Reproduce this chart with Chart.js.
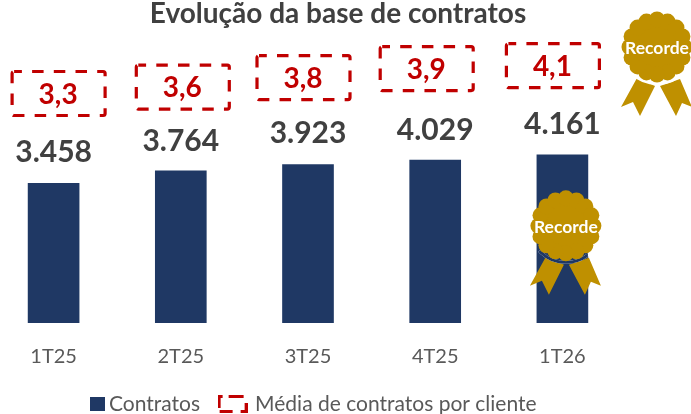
<!DOCTYPE html>
<html><head><meta charset="utf-8">
<style>html,body{margin:0;padding:0;background:#fff;overflow:hidden}canvas{display:block;position:absolute;left:-11px;top:0}</style>
<script src="https://cdn.jsdelivr.net/npm/chart.js@4"></script></head>
<body><div style="width:691px;height:414px;position:relative;overflow:hidden"><canvas id="c" width="702" height="414"></canvas></div>
<script>
const categories = ['1T25','2T25','3T25','4T25','1T26'];
const contratos = [3458,3764,3923,4029,4161];
const contratosLabels = ['3.458','3.764','3.923','4.029','4.161'];
const media = [3.3,3.6,3.8,3.9,4.1];
const mediaLabels = ['3,3','3,6','3,8','3,9','4,1'];
const seriesNames = ['Contratos','Média de contratos por cliente'];
const chartTitle = 'Evolução da base de contratos';
const recordeText = 'Recorde';

const NAVY='#1F3864', RED='#C00000', GOLD='#BF9000', GREY='#595959', DARK='#404040';
const FONT='Lato, Carlito, Calibri, sans-serif';
const boxNudgeX=[5,2,-4.5,-8.5,-9.5], boxNudgeY=[0,4,1.5,-4,0], labelNudgeY=[0,1.5,0,1.5,0];

function rrDash(ctx,x,y,w,h,r){ctx.beginPath();ctx.roundRect(x,y,w,h,r);ctx.stroke();}
const iconBar=document.createElement('canvas');iconBar.width=37;iconBar.height=18;
{const g=iconBar.getContext('2d');g.fillStyle=NAVY;g.fillRect(22,2,15,14);}
const iconBox=document.createElement('canvas');iconBox.width=30;iconBox.height=18;
{const g=iconBox.getContext('2d');g.fillStyle=RED;
 [[0,0,3,13],[0,0,5,3],[11,0,15,3],[2,15,13,3],[27,8,3,10],[23,15,7,3]].forEach(s=>g.fillRect(s[0],s[1],s[2],s[3]));}

function badge(ctx,cx,cy,navyRange){
  ctx.save();ctx.translate(cx,cy);ctx.fillStyle=GOLD;
  [[[-20,31],[-2,39],[-17,69],[-24,55],[-36,60]],[[23,32],[3,39],[19,69],[25,56],[35,60]]].forEach(p=>{
    ctx.beginPath();p.forEach((q,i)=>i?ctx.lineTo(q[0],q[1]):ctx.moveTo(q[0],q[1]));ctx.closePath();ctx.fill();});
  ctx.lineWidth=3;
  ctx.strokeStyle='#ffffff';ctx.beginPath();ctx.arc(0,0,36.5,0.75,Math.PI-0.75);ctx.stroke();
  if(navyRange){ctx.save();ctx.beginPath();ctx.rect(navyRange[0],0,navyRange[1]-navyRange[0],60);ctx.clip();
    ctx.strokeStyle=NAVY;ctx.beginPath();ctx.arc(0,0,36.5,0.75,Math.PI-0.75);ctx.stroke();ctx.restore();}
  ctx.fillStyle=GOLD;ctx.beginPath();ctx.arc(0,0,29,0,Math.PI*2);ctx.fill();
  const n=16;for(let i=0;i<n;i++){const a=i/n*Math.PI*2;ctx.beginPath();ctx.arc(Math.cos(a)*27.5,Math.sin(a)*27.5,8,0,Math.PI*2);ctx.fill();}
  ctx.fillStyle='#fff';ctx.font='bold 17.5px '+FONT;ctx.textAlign='center';ctx.textBaseline='middle';
  ctx.fillText(recordeText,0,1);
  ctx.restore();
}
const marks={id:'marks',
  afterLayout(chart){
    const l=chart.legend;l.left=65;l.right=702;l.top=373;l.bottom=431;
    const t=chart.titleBlock;t.left=0;t.right=698;t.top=0;
  },
  afterDatasetsDraw(chart){
    const ctx=chart.ctx,bars=chart.getDatasetMeta(0).data,pts=chart.getDatasetMeta(1).data;
    ctx.save();ctx.textAlign='center';ctx.textBaseline='middle';
    bars.forEach((b,i)=>{ctx.fillStyle=DARK;ctx.font='bold 30px '+FONT;ctx.fillText(contratosLabels[i],b.x,b.y-31+labelNudgeY[i]);});
    pts.forEach((p,i)=>{
      const x=bars[i].x+boxNudgeX[i],y=p.y+boxNudgeY[i];
      ctx.strokeStyle=RED;ctx.lineWidth=3.2;ctx.setLineDash([11.5,10.2]);ctx.lineDashOffset=3.7;
      rrDash(ctx,x-46.5,y-22,93,44,2);ctx.setLineDash([]);
      ctx.fillStyle=RED;ctx.font='bold 28px '+FONT;ctx.fillText(mediaLabels[i],x-0.5,y+1);
    });
    ctx.restore();
    const last=bars[bars.length-1];
    badge(ctx,last.x+3.5,last.y+71,[-29,22]);
    badge(ctx,668,47,null);
  }};
new Chart(document.getElementById('c'),{
  data:{labels:categories,datasets:[
    {type:'bar',label:seriesNames[0],data:contratos,backgroundColor:NAVY,barThickness:51,yAxisID:'y',order:2},
    {type:'line',label:seriesNames[1],data:media,showLine:false,pointRadius:0,yAxisID:'y2',order:1}
  ]},
  plugins:[marks],
  options:{responsive:false,animation:false,
    layout:{padding:{left:1,right:65,top:0,bottom:-28.5}},
    scales:{
      x:{grid:{display:false,drawTicks:false},border:{display:false},ticks:{padding:22,color:GREY,font:{family:FONT,size:20},maxRotation:0}},
      y:{display:false,min:0,max:7280},
      y2:{display:false,min:-3.29,max:5.157}
    },
    plugins:{
      tooltip:{enabled:false},
      title:{display:true,text:chartTitle,color:DARK,font:{family:FONT,size:28,weight:'bold',lineHeight:1.03},padding:0},
      legend:{position:'bottom',align:'start',labels:{
        font:{family:FONT,size:21},color:GREY,padding:20.5,usePointStyle:true,pointStyleWidth:24,boxHeight:21,
        generateLabels:()=>[
          {text:seriesNames[0],pointStyle:iconBar,fontColor:GREY,datasetIndex:0,hidden:false},
          {text:seriesNames[1],pointStyle:iconBox,fontColor:GREY,datasetIndex:1,hidden:false}
        ]}}
    }}
});
</script></body></html>
